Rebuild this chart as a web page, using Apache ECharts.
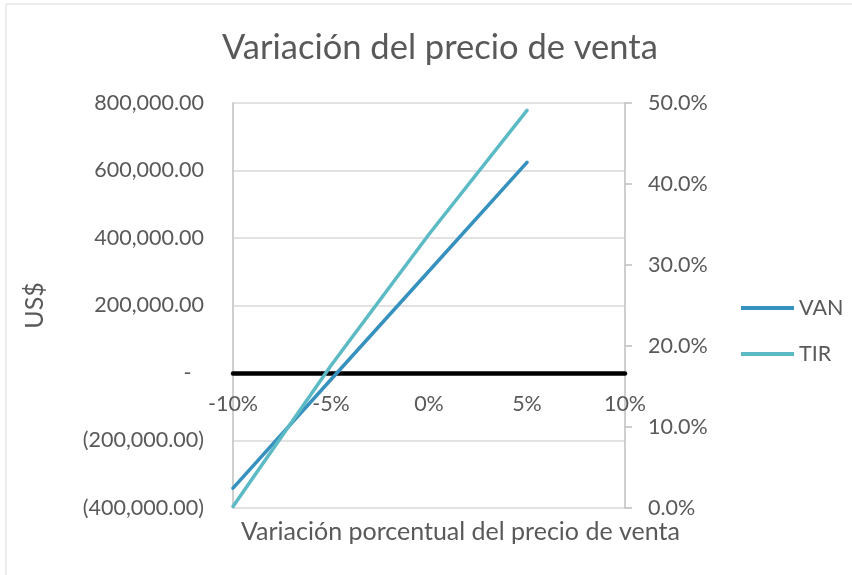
<!DOCTYPE html>
<html>
<head>
<meta charset="utf-8">
<script src="https://cdn.jsdelivr.net/npm/echarts@6/dist/echarts.min.js"></script>
<style>
html,body{margin:0;padding:0;background:#fff;}
#chart{width:852px;height:575px;}
</style>
</head>
<body>
<div id="chart"></div>
<script>
// Data
const variation = [-0.10, -0.05, 0.00, 0.05];
const van = [-341000, -19300, 302300, 624000];
const tir = [0.002, 0.176, 0.338, 0.491];
const seriesNames = ['VAN', 'TIR'];
const title = 'Variación del precio de venta';
const xTitle = 'Variación porcentual del precio de venta';
const yTitle = 'US$';
const yMin = -400000, yMax = 800000, yStep = 200000;

const FONT = 'Lato';
const TXT = '#595959';
const TICK = 21.5;

const W = 852, H = 575;
const gridTop = 103, gridBottom = 67;
const plotH = H - gridTop - gridBottom;
// place the x axis where the left axis value is zero
const zeroOffset = -plotH * (0 - yMin) / (yMax - yMin);

function money(v) {
  if (Math.abs(v) < 1e-9) return '-\u2007';
  const s = Math.abs(v).toLocaleString('en-US', {minimumFractionDigits: 2, maximumFractionDigits: 2});
  return v < 0 ? '(' + s + ')' : s;
}

const chart = echarts.init(document.getElementById('chart'), null, {renderer: 'canvas'});
chart.setOption({
  backgroundColor: '#ffffff',
  animation: false,
  textStyle: {fontFamily: FONT, color: TXT},
  title: [
    {text: title, left: 217, top: 25,
     textStyle: {fontFamily: FONT, fontSize: 34.5, fontWeight: 'normal', color: TXT}},
    {text: xTitle, left: 236, top: 514,
     textStyle: {fontFamily: FONT, fontSize: 25, fontWeight: 'normal', color: TXT}}
  ],
  graphic: [{
    type: 'rect', silent: true, z: -1,
    shape: {x: 6, y: 4, width: 900, height: 700},
    style: {fill: 'none', stroke: '#d9d9d9', lineWidth: 1}
  }],
  legend: {
    orient: 'vertical', left: 736, top: 292,
    itemWidth: 53, itemHeight: 4, itemGap: 24,
    icon: 'rect',
    textStyle: {fontFamily: FONT, fontSize: TICK, color: TXT},
    data: seriesNames
  },
  grid: {left: 233, right: 227, top: gridTop, bottom: gridBottom, containLabel: false},
  xAxis: {
    type: 'value', min: -0.10, max: 0.10, interval: 0.05,
    position: 'bottom', offset: zeroOffset,
    axisLine: {onZero: false, lineStyle: {color: '#000', width: 4.5}},
    axisTick: {show: false},
    splitLine: {show: false},
    axisLabel: {
      margin: 20, fontFamily: FONT, fontSize: TICK, color: TXT,
      formatter: v => Math.round(v * 100) + '%'
    }
  },
  yAxis: [
    {
      type: 'value', min: yMin, max: yMax, interval: yStep, position: 'left',
      name: yTitle, nameLocation: 'middle', nameGap: 186, nameRotate: 90,
      nameTextStyle: {fontFamily: FONT, fontSize: 25, color: TXT},
      axisLine: {show: true, onZero: false, lineStyle: {color: '#bfbfbf', width: 1.5}},
      axisTick: {show: false},
      splitLine: {show: true, lineStyle: {color: '#d9d9d9', width: 1.5}},
      axisLabel: {margin: 29, fontFamily: FONT, fontSize: TICK, color: TXT, formatter: money}
    },
    {
      type: 'value', min: 0, max: 0.5, interval: 0.1, position: 'right',
      axisLine: {show: true, onZero: false, lineStyle: {color: '#bfbfbf', width: 1.5}},
      axisTick: {show: true, length: 7, inside: false, lineStyle: {color: '#bfbfbf', width: 1.5}},
      splitLine: {show: false},
      axisLabel: {margin: 23, fontFamily: FONT, fontSize: TICK, color: TXT,
        formatter: v => (v * 100).toFixed(1) + '%'}
    }
  ],
  series: [
    {
      name: seriesNames[0], type: 'line', yAxisIndex: 0,
      data: variation.map((x, i) => [x, van[i]]),
      showSymbol: false, symbol: 'none',
      lineStyle: {color: '#3691bf', width: 3.5, cap: 'round'},
      itemStyle: {color: '#3691bf'}, z: 3
    },
    {
      name: seriesNames[1], type: 'line', yAxisIndex: 1,
      data: variation.map((x, i) => [x, tir[i]]),
      showSymbol: false, symbol: 'none',
      lineStyle: {color: '#5cbac5', width: 3.5, cap: 'round'},
      itemStyle: {color: '#5cbac5'}, z: 4
    }
  ]
});
</script>
</body>
</html>
